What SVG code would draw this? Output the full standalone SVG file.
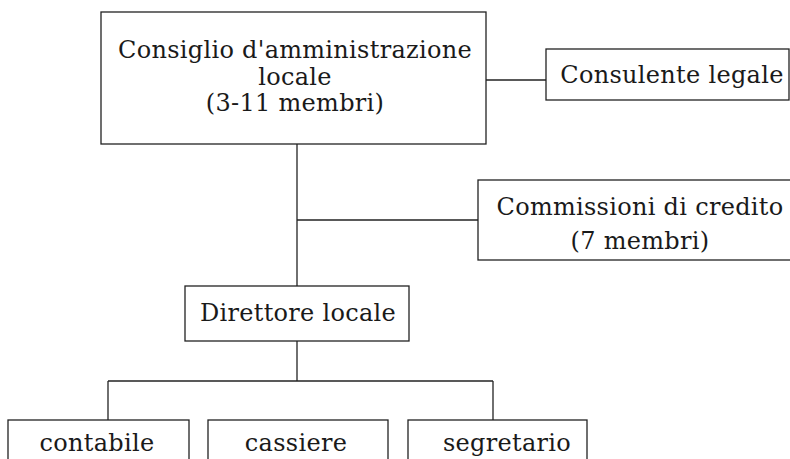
<svg xmlns="http://www.w3.org/2000/svg" width="790" height="459" viewBox="0 0 790 459">
<style>
.box{fill:#fff;stroke:#222;stroke-width:1.3}
.ln{fill:none;stroke:#222;stroke-width:1.3}
text{font-family:"DejaVu Serif","Liberation Serif",serif;font-size:24px;letter-spacing:0.3px;fill:#1a1a1a;text-anchor:middle}
</style>
<rect width="790" height="459" fill="#fff"/>
<g id="connectors">
<path class="ln" d="M486 80H546"/>
<path class="ln" d="M297 144V286"/>
<path class="ln" d="M297 220H478"/>
<path class="ln" d="M297 341V381"/>
<path class="ln" d="M108 381H493"/>
<path class="ln" d="M108 381V420"/>
<path class="ln" d="M493 381V420"/>
</g>
<g id="consiglio">
<rect class="box" x="101" y="12" width="385" height="132"/>
<text x="295" y="58">Consiglio d'amministrazione</text>
<text x="295" y="85">locale</text>
<text x="295" y="111">(3-11 membri)</text>
</g>
<g id="consulente">
<rect class="box" x="546" y="49" width="243" height="51"/>
<text x="672" y="83">Consulente legale</text>
</g>
<g id="commissioni">
<rect class="box" x="478" y="180" width="330" height="80"/>
<text x="640" y="215">Commissioni di credito</text>
<text x="640" y="249">(7 membri)</text>
</g>
<g id="direttore">
<rect class="box" x="185" y="286" width="224" height="55"/>
<text x="298" y="321">Direttore locale</text>
</g>
<g id="contabile">
<rect class="box" x="8" y="420" width="181" height="60"/>
<text x="97" y="451">contabile</text>
</g>
<g id="cassiere">
<rect class="box" x="208" y="420" width="180" height="60"/>
<text x="296" y="451">cassiere</text>
</g>
<g id="segretario">
<rect class="box" x="408" y="420" width="179" height="60"/>
<text x="507" y="451">segretario</text>
</g>
</svg>
